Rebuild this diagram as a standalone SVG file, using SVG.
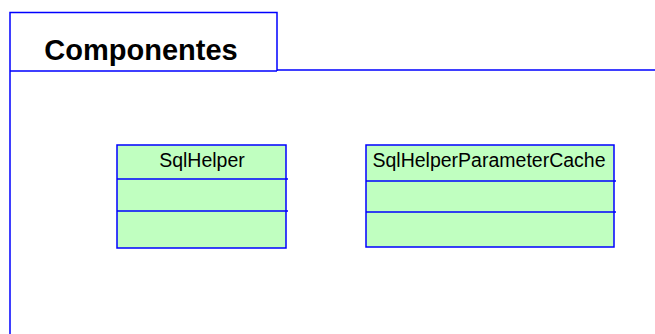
<svg xmlns="http://www.w3.org/2000/svg" width="655" height="334" viewBox="0 0 655 334">
<style>
.frame{fill:none;stroke:#0000ff;stroke-width:1.5}
.cls{fill:#c0ffc0;stroke:#0000ff;stroke-width:1.5}
.div{stroke:#0000ff;stroke-width:1.5}
.t{font-family:"Liberation Sans",Arial,sans-serif;font-size:19.5px;fill:#000;text-anchor:middle}
.h{font-family:"Liberation Sans",Arial,sans-serif;font-size:29px;font-weight:bold;fill:#000;text-anchor:middle}
</style>
<rect width="655" height="334" fill="#fff"/>
<g id="package">
<path class="frame" d="M10,334 V12.5 H277 V71 M10,71 H277 M277,70 H655"/>
<text class="h" x="141" y="60">Componentes</text>
</g>
<g id="SqlHelper">
<rect class="cls" x="117" y="145" width="169" height="103"/>
<line class="div" x1="117" y1="179" x2="288" y2="179"/>
<line class="div" x1="117" y1="211" x2="288" y2="211"/>
<text class="t" x="202" y="167">SqlHelper</text>
</g>
<g id="SqlHelperParameterCache">
<rect class="cls" x="366" y="145" width="248" height="102"/>
<line class="div" x1="366" y1="181" x2="616" y2="181"/>
<line class="div" x1="366" y1="212" x2="616" y2="212"/>
<text class="t" x="489" y="167">SqlHelperParameterCache</text>
</g>
<g id="connectors"></g>
</svg>
